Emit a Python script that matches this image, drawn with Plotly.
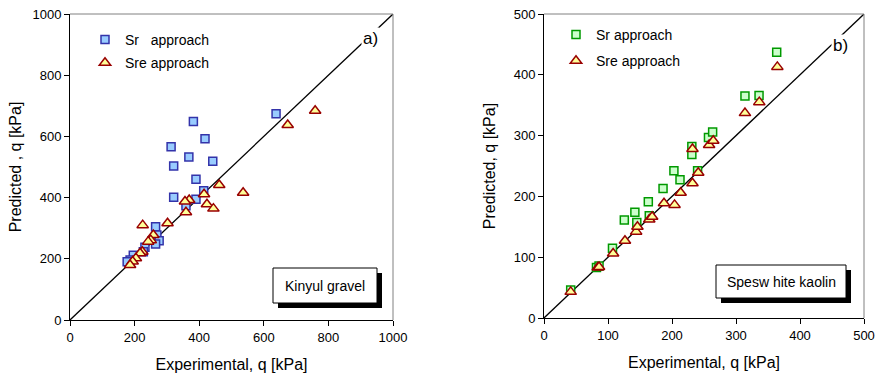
import plotly.graph_objects as go

# ---- data: left panel (Kinyul gravel) ----
a_sr_x = [638, 382, 418, 313, 368, 442, 321, 390, 414, 390, 321, 359, 265, 269, 276, 265, 232, 227, 196, 186, 177]
a_sr_y = [674, 649, 592, 566, 533, 519, 503, 460, 422, 395, 401, 373, 305, 278, 259, 248, 238, 223, 212, 196, 190]
a_sre_x = [759, 674, 462, 536, 415, 369, 356, 424, 444, 359, 302, 225, 258, 250, 242, 224, 217, 204, 194, 186]
a_sre_y = [684, 637, 441, 416, 411, 392, 387, 378, 364, 352, 316, 310, 278, 261, 256, 223, 218, 202, 191, 180]

# ---- data: right panel (Speswhite kaolin) ----
b_sr_x = [41.7, 82, 86, 107, 125.5, 142, 145, 163, 164.5, 186, 203, 212.5, 231, 231, 240, 257, 263.5, 314, 336, 363.6]
b_sr_y = [46, 83, 85.5, 114.6, 161, 174, 157, 191, 168, 213, 242, 227.5, 282, 269, 242, 297, 306, 365, 366, 437]
b_sre_x = [41.7, 84, 86, 108, 126.5, 144, 146, 164.5, 169, 187.5, 204, 213.5, 232, 232, 241, 258, 264.5, 314, 336.4, 364.6]
b_sre_y = [43, 83, 84, 106, 127, 142, 150, 162, 166.6, 188.6, 186, 206, 221.5, 278, 239, 284.5, 291.6, 337, 355, 413]

a_ticks = [0, 200, 400, 600, 800, 1000]
b_ticks = [0, 100, 200, 300, 400, 500]
a_range = [0, 1000]
b_range = [0, 500]

FONT = "Liberation Sans, Arial, sans-serif"
W, H = 878, 380

fig = go.Figure()

sq_a = dict(symbol="square", size=8, color="#99CCFF", line=dict(color="#3333AA", width=1.5))
sq_b = dict(symbol="square", size=8, color="#CCFFCC", line=dict(color="#009900", width=1.5))
tri = dict(symbol="triangle-up", size=10, color="#FFFF99", line=dict(color="#990000", width=1.5))

# diagonal lines
fig.add_trace(go.Scatter(x=a_range, y=a_range, mode="lines", line=dict(color="black", width=1.3),
                         showlegend=False, xaxis="x", yaxis="y", hoverinfo="skip"))
fig.add_trace(go.Scatter(x=b_range, y=b_range, mode="lines", line=dict(color="black", width=1.3),
                         showlegend=False, xaxis="x2", yaxis="y2", hoverinfo="skip"))

fig.add_trace(go.Scatter(x=a_sr_x, y=a_sr_y, mode="markers", marker=sq_a, name="Sr\u00a0\u00a0\u00a0approach",
                         xaxis="x", yaxis="y", legend="legend", legendgroup="a1", cliponaxis=False))
fig.add_trace(go.Scatter(x=a_sre_x, y=a_sre_y, mode="markers", marker=tri, name="Sre approach",
                         xaxis="x", yaxis="y", legend="legend", legendgroup="a2", cliponaxis=False))
fig.add_trace(go.Scatter(x=b_sr_x, y=b_sr_y, mode="markers", marker=sq_b, name="Sr approach",
                         xaxis="x2", yaxis="y2", legend="legend2", legendgroup="b1", cliponaxis=False))
fig.add_trace(go.Scatter(x=b_sre_x, y=b_sre_y, mode="markers", marker=tri, name="Sre approach",
                         xaxis="x2", yaxis="y2", legend="legend2", legendgroup="b2", cliponaxis=False))

def px_x(p):
    return p / W

def px_y(p):
    return 1 - p / H

axis_common = dict(showgrid=False, zeroline=False, showline=True, linecolor="black", linewidth=1,
                   ticks="outside", ticklen=5, tickcolor="black", tickwidth=1, automargin=False,
                   tickfont=dict(family=FONT, size=13, color="black"))

fig.update_layout(
    width=W, height=H, margin=dict(l=0, r=0, t=0, b=0, autoexpand=False),
    paper_bgcolor="white", plot_bgcolor="white",
    font=dict(family=FONT, color="black"),
    xaxis=dict(domain=[px_x(70), px_x(393)], range=a_range, tickvals=a_ticks, anchor="y",
               title=dict(text="Experimental, q [kPa]", font=dict(size=16), standoff=15), **axis_common),
    yaxis=dict(domain=[px_y(320), px_y(14)], range=a_range, tickvals=a_ticks, anchor="x",
               title=dict(text="Predicted , q [kPa]", font=dict(size=16), standoff=6), **axis_common),
    xaxis2=dict(domain=[px_x(544), px_x(864)], range=b_range, tickvals=b_ticks, anchor="y2",
                title=dict(text="Experimental, q [kPa]", font=dict(size=16), standoff=15), **axis_common),
    yaxis2=dict(domain=[px_y(318), px_y(14)], range=b_range, tickvals=b_ticks, anchor="x2",
                title=dict(text="Predicted, q [kPa]", font=dict(size=16), standoff=14), **axis_common),
    legend=dict(x=px_x(85), y=px_y(24), xanchor="left", yanchor="top", bgcolor="rgba(0,0,0,0)",
                font=dict(size=14, family=FONT), traceorder="grouped", tracegroupgap=2, itemwidth=30),
    legend2=dict(x=px_x(556), y=px_y(19), xanchor="left", yanchor="top", bgcolor="rgba(0,0,0,0)",
                 font=dict(size=14, family=FONT), traceorder="grouped", tracegroupgap=5, itemwidth=30),
)

shapes = []
# gray top/right frame lines
for xr, yr in (("x", "y"), ("x2", "y2")):
    shapes.append(dict(type="line", xref=f"{xr} domain", yref=f"{yr} domain", x0=0, x1=1, y0=1, y1=1,
                       line=dict(color="#808080", width=1)))
    shapes.append(dict(type="line", xref=f"{xr} domain", yref=f"{yr} domain", x0=1, x1=1, y0=0, y1=1,
                       line=dict(color="#808080", width=1)))

# label boxes with shadow (in pixel-derived paper coords)
def box(x0, x1, y0, y1):
    shapes.append(dict(type="rect", xref="paper", yref="paper",
                       x0=px_x(x0 + 5), x1=px_x(x1 + 5), y0=px_y(y1 + 5), y1=px_y(y0 + 5),
                       fillcolor="black", line=dict(width=0)))
    shapes.append(dict(type="rect", xref="paper", yref="paper",
                       x0=px_x(x0), x1=px_x(x1), y0=px_y(y1), y1=px_y(y0),
                       fillcolor="white", line=dict(color="black", width=1)))

box(273, 377, 268, 303)
box(716, 846, 265, 298)
fig.update_layout(shapes=shapes)

fig.add_annotation(text="Kinyul gravel", xref="paper", yref="paper", x=px_x(325), y=px_y(285.5),
                   xanchor="center", yanchor="middle",
                   showarrow=False, font=dict(size=14, family=FONT))
fig.add_annotation(text="Spesw hite kaolin", xref="paper", yref="paper", x=px_x(781), y=px_y(281.5),
                   xanchor="center", yanchor="middle",
                   showarrow=False, font=dict(size=14, family=FONT))
fig.add_annotation(text="a)", xref="x", yref="y", x=929, y=921, showarrow=False,
                   xanchor="center", yanchor="middle",
                   font=dict(size=17, family=FONT), bgcolor="white")
fig.add_annotation(text="b)", xref="x2", yref="y2", x=464, y=449, showarrow=False,
                   xanchor="center", yanchor="middle",
                   font=dict(size=17, family=FONT), bgcolor="white")

fig.write_html("out.html", config={"displayModeBar": False},
               post_script="document.body.style.margin='0';document.body.style.padding='0';")
